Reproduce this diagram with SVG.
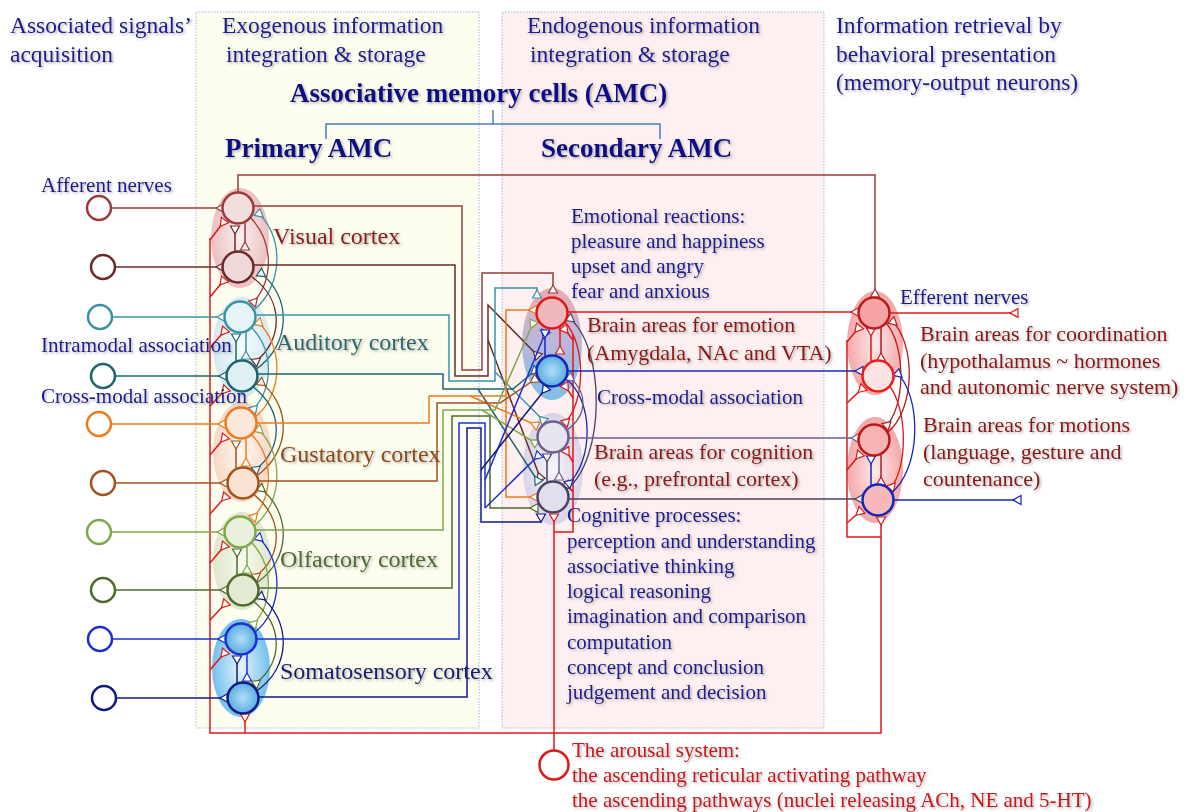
<svg xmlns="http://www.w3.org/2000/svg" width="1188" height="812" viewBox="0 0 1188 812">
<style>
.t{font-family:"Liberation Serif","Times New Roman",serif;filter:url(#sh)}
.nb{fill:#1a1a8e}
.dr{fill:#8a1515}
.rd{fill:#c8141a}
.h{font-size:23.5px}
.b{font-weight:bold;font-size:27px;fill:#0a0a86}
.s21{font-size:21px}
.s22{font-size:22px}
.s24{font-size:24px}
.w{fill:none;stroke-width:1.5}
.thin{fill:none;stroke-width:1.3}
</style>
<defs>
<filter id="sh" x="-5%" y="-20%" width="110%" height="150%"><feDropShadow dx="1.5" dy="1.5" stdDeviation="0.8" flood-color="#666" flood-opacity="0.5"/></filter>
<marker id="mV1" viewBox="0 -6 11 12" refX="9" refY="0" markerWidth="11" markerHeight="12" markerUnits="userSpaceOnUse" orient="auto"><path d="M1,0 L9,-4.5 L9,4.5 Z" fill="#fff" stroke="#9a3b3b" stroke-width="1.2"/></marker>
<marker id="mV2" viewBox="0 -6 11 12" refX="9" refY="0" markerWidth="11" markerHeight="12" markerUnits="userSpaceOnUse" orient="auto"><path d="M1,0 L9,-4.5 L9,4.5 Z" fill="#fff" stroke="#6b2a2a" stroke-width="1.2"/></marker>
<marker id="mA1" viewBox="0 -6 11 12" refX="9" refY="0" markerWidth="11" markerHeight="12" markerUnits="userSpaceOnUse" orient="auto"><path d="M1,0 L9,-4.5 L9,4.5 Z" fill="#fff" stroke="#3a93a5" stroke-width="1.2"/></marker>
<marker id="mA2" viewBox="0 -6 11 12" refX="9" refY="0" markerWidth="11" markerHeight="12" markerUnits="userSpaceOnUse" orient="auto"><path d="M1,0 L9,-4.5 L9,4.5 Z" fill="#fff" stroke="#1f6470" stroke-width="1.2"/></marker>
<marker id="mG1" viewBox="0 -6 11 12" refX="9" refY="0" markerWidth="11" markerHeight="12" markerUnits="userSpaceOnUse" orient="auto"><path d="M1,0 L9,-4.5 L9,4.5 Z" fill="#fff" stroke="#ee7a1c" stroke-width="1.2"/></marker>
<marker id="mG2" viewBox="0 -6 11 12" refX="9" refY="0" markerWidth="11" markerHeight="12" markerUnits="userSpaceOnUse" orient="auto"><path d="M1,0 L9,-4.5 L9,4.5 Z" fill="#fff" stroke="#a4521a" stroke-width="1.2"/></marker>
<marker id="mO1" viewBox="0 -6 11 12" refX="9" refY="0" markerWidth="11" markerHeight="12" markerUnits="userSpaceOnUse" orient="auto"><path d="M1,0 L9,-4.5 L9,4.5 Z" fill="#fff" stroke="#7ea84a" stroke-width="1.2"/></marker>
<marker id="mO2" viewBox="0 -6 11 12" refX="9" refY="0" markerWidth="11" markerHeight="12" markerUnits="userSpaceOnUse" orient="auto"><path d="M1,0 L9,-4.5 L9,4.5 Z" fill="#fff" stroke="#4f6b2c" stroke-width="1.2"/></marker>
<marker id="mS1" viewBox="0 -6 11 12" refX="9" refY="0" markerWidth="11" markerHeight="12" markerUnits="userSpaceOnUse" orient="auto"><path d="M1,0 L9,-4.5 L9,4.5 Z" fill="#fff" stroke="#1c30d0" stroke-width="1.2"/></marker>
<marker id="mS2" viewBox="0 -6 11 12" refX="9" refY="0" markerWidth="11" markerHeight="12" markerUnits="userSpaceOnUse" orient="auto"><path d="M1,0 L9,-4.5 L9,4.5 Z" fill="#fff" stroke="#111a80" stroke-width="1.2"/></marker>
<marker id="mR" viewBox="0 -6 11 12" refX="9" refY="0" markerWidth="11" markerHeight="12" markerUnits="userSpaceOnUse" orient="auto"><path d="M1,0 L9,-4.5 L9,4.5 Z" fill="#fff" stroke="#e01818" stroke-width="1.2"/></marker>
<marker id="mDR" viewBox="0 -6 11 12" refX="9" refY="0" markerWidth="11" markerHeight="12" markerUnits="userSpaceOnUse" orient="auto"><path d="M1,0 L9,-4.5 L9,4.5 Z" fill="#fff" stroke="#b41c1c" stroke-width="1.2"/></marker>
<marker id="mB" viewBox="0 -6 11 12" refX="9" refY="0" markerWidth="11" markerHeight="12" markerUnits="userSpaceOnUse" orient="auto"><path d="M1,0 L9,-4.5 L9,4.5 Z" fill="#fff" stroke="#1428b8" stroke-width="1.2"/></marker>
<marker id="mL" viewBox="0 -6 11 12" refX="9" refY="0" markerWidth="11" markerHeight="12" markerUnits="userSpaceOnUse" orient="auto"><path d="M1,0 L9,-4.5 L9,4.5 Z" fill="#fff" stroke="#6e5f8e" stroke-width="1.2"/></marker>
<marker id="mDL" viewBox="0 -6 11 12" refX="9" refY="0" markerWidth="11" markerHeight="12" markerUnits="userSpaceOnUse" orient="auto"><path d="M1,0 L9,-4.5 L9,4.5 Z" fill="#fff" stroke="#4a4262" stroke-width="1.2"/></marker>
<radialGradient id="gV"><stop offset="0" stop-color="#fbf0f0"/><stop offset="1" stop-color="#ebc0c0"/></radialGradient>
<radialGradient id="gA"><stop offset="0" stop-color="#f8fcfd"/><stop offset="1" stop-color="#d4e9f1"/></radialGradient>
<radialGradient id="gG"><stop offset="0" stop-color="#fff8f2"/><stop offset="1" stop-color="#f9d8c4"/></radialGradient>
<radialGradient id="gO"><stop offset="0" stop-color="#f8faf0"/><stop offset="1" stop-color="#dfe7cd"/></radialGradient>
<radialGradient id="gS"><stop offset="0" stop-color="#e8f4fc"/><stop offset="1" stop-color="#74c0ee"/></radialGradient>
<radialGradient id="gP"><stop offset="0" stop-color="#fdeaea"/><stop offset="1" stop-color="#f4a8a8"/></radialGradient>
<radialGradient id="gC"><stop offset="0" stop-color="#f6f4fa"/><stop offset="1" stop-color="#d8d4e8"/></radialGradient>
<linearGradient id="gE" x1="0" y1="0" x2="0" y2="1"><stop offset="0" stop-color="#eeaab0"/><stop offset="0.5" stop-color="#b8b8dc"/><stop offset="1" stop-color="#80bee6"/></linearGradient>
<radialGradient id="cB"><stop offset="0" stop-color="#b4def8"/><stop offset="1" stop-color="#58ace2"/></radialGradient>
</defs>

<g id="panels">
<rect x="196" y="12" width="283" height="716" fill="#fefef0" stroke="#9ab8dc" stroke-width="1" stroke-dasharray="1.5,1.5"/>
<rect x="502" y="12" width="322" height="716" fill="#fef0f0" stroke="#9ab8dc" stroke-width="1" stroke-dasharray="1.5,1.5"/>
</g>

<g id="headers">
<text class="t nb h" x="10" y="33">Associated signals’</text>
<text class="t nb h" x="10" y="62">acquisition</text>
<text class="t nb h" x="222" y="33">Exogenous information</text>
<text class="t nb h" x="226" y="62">integration &amp; storage</text>
<text class="t nb h" x="527" y="33">Endogenous information</text>
<text class="t nb h" x="530" y="62">integration &amp; storage</text>
<text class="t nb h" x="836" y="33">Information retrieval by</text>
<text class="t nb h" x="836" y="62">behavioral presentation</text>
<text class="t nb h" x="836" y="90">(memory-output neurons)</text>
<text class="t b" x="290" y="102">Associative memory cells (AMC)</text>
<text class="t b" x="225" y="157">Primary AMC</text>
<text class="t b" x="541" y="157">Secondary AMC</text>
<path d="M493,110 V124 M326,139 V124 H660 V139" fill="none" stroke="#4a80b8" stroke-width="1.5"/>
</g>

<g id="glows">
<ellipse cx="240" cy="238" rx="29" ry="50" fill="url(#gV)"/>
<ellipse cx="242" cy="347" rx="29" ry="50" fill="url(#gA)"/>
<ellipse cx="242" cy="452" rx="29" ry="50" fill="url(#gG)"/>
<ellipse cx="242" cy="561" rx="29" ry="49" fill="url(#gO)"/>
<ellipse cx="241" cy="668" rx="29" ry="49" fill="url(#gS)"/>
<ellipse cx="552" cy="344" rx="30" ry="56" fill="url(#gE)"/>
<ellipse cx="553" cy="469" rx="30" ry="56" fill="url(#gC)"/>
<ellipse cx="875" cy="343" rx="28" ry="52" fill="url(#gP)"/>
<ellipse cx="875" cy="470" rx="28" ry="53" fill="url(#gP)"/>
</g>

<g id="connectors">
<g stroke="#e01818" class="w">
<path d="M210,238 V733 H881 V517" marker-end="url(#mR)"/>
<path d="M210,240 L225,220" marker-end="url(#mR)"/>
<path d="M210,297 L225,279" marker-end="url(#mR)"/>
<path d="M210,348 L226,329" marker-end="url(#mR)"/>
<path d="M210,406 L227,388" marker-end="url(#mR)"/>
<path d="M210,455 L226,436" marker-end="url(#mR)"/>
<path d="M210,514 L227,495" marker-end="url(#mR)"/>
<path d="M210,563 L226,544" marker-end="url(#mR)"/>
<path d="M210,620 L227,602" marker-end="url(#mR)"/>
<path d="M210,670 L226,651" marker-end="url(#mR)"/>
<path d="M245,733 V714" marker-end="url(#mR)"/>
<path d="M554,750 V514" marker-end="url(#mR)"/>
<path d="M554,532 H573 V335"/>
<path d="M573,340 L563,327" marker-end="url(#mR)"/>
<path d="M573,398 L564,384" marker-end="url(#mR)"/>
<path d="M573,462 L565,449" marker-end="url(#mR)"/>
<path d="M573,492 L565,483" marker-end="url(#mR)"/>
<path d="M881,537 H847 V340"/>
<path d="M847,342 L860,326" marker-end="url(#mR)"/>
<path d="M847,403 L864,387" marker-end="url(#mR)"/>
<path d="M847,470 L861,453" marker-end="url(#mR)"/>
<path d="M847,523 L862,510" marker-end="url(#mR)"/>
</g>

<path class="w" stroke="#9a3b3b" d="M112,208 H224" marker-end="url(#mV1)"/>
<path class="w" stroke="#6b2a2a" d="M115,267 H224" marker-end="url(#mV2)"/>
<path class="w" stroke="#3a93a5" d="M112,317 H225" marker-end="url(#mA1)"/>
<path class="w" stroke="#1f6470" d="M115,376 H227" marker-end="url(#mA2)"/>
<path class="w" stroke="#ee7a1c" d="M111,424 H226" marker-end="url(#mG1)"/>
<path class="w" stroke="#a4521a" d="M115,483 H228" marker-end="url(#mG2)"/>
<path class="w" stroke="#7ea84a" d="M111,532 H225" marker-end="url(#mO1)"/>
<path class="w" stroke="#4f6b2c" d="M115,590 H228" marker-end="url(#mO2)"/>
<path class="w" stroke="#1c30d0" d="M112,639 H226" marker-end="url(#mS1)"/>
<path class="w" stroke="#111a80" d="M116,698 H228" marker-end="url(#mS2)"/>

<path class="w" stroke="#6b2a2a" d="M235,252 V226" marker-end="url(#mV2)"/>
<path class="w" stroke="#9a3b3b" d="M245,223 V250" marker-end="url(#mV1)"/>
<path class="w" stroke="#1f6470" d="M236,361 V334" marker-end="url(#mA2)"/>
<path class="w" stroke="#3a93a5" d="M246,332 V359" marker-end="url(#mA1)"/>
<path class="w" stroke="#a4521a" d="M236,468 V441" marker-end="url(#mG2)"/>
<path class="w" stroke="#ee7a1c" d="M246,439 V466" marker-end="url(#mG1)"/>
<path class="w" stroke="#4f6b2c" d="M237,575 V549" marker-end="url(#mO2)"/>
<path class="w" stroke="#7ea84a" d="M247,547 V573" marker-end="url(#mO1)"/>
<path class="w" stroke="#111a80" d="M237,683 V656" marker-end="url(#mS2)"/>
<path class="w" stroke="#1c30d0" d="M247,654 V681" marker-end="url(#mS1)"/>

<path class="thin" stroke="#9a3b3b" d="M251,218 C274,243 274,280 252,304" marker-end="url(#mV1)"/>
<path class="thin" stroke="#3a93a5" d="M254,310 C284,285 284,235 257,212" marker-end="url(#mA1)"/>
<path class="thin" stroke="#6b2a2a" d="M252,277 C284,300 284,340 254,363" marker-end="url(#mV2)"/>
<path class="thin" stroke="#1f6470" d="M255,370 C292,345 292,295 259,272" marker-end="url(#mA2)"/>
<path class="thin" stroke="#3a93a5" d="M251,327 C274,350 274,388 252,411" marker-end="url(#mA1)"/>
<path class="thin" stroke="#ee7a1c" d="M254,418 C284,395 284,345 257,321" marker-end="url(#mG1)"/>
<path class="thin" stroke="#1f6470" d="M252,386 C284,410 284,448 254,471" marker-end="url(#mA2)"/>
<path class="thin" stroke="#a4521a" d="M255,477 C292,452 292,405 259,381" marker-end="url(#mG2)"/>
<path class="thin" stroke="#ee7a1c" d="M251,434 C274,458 274,496 252,519" marker-end="url(#mG1)"/>
<path class="thin" stroke="#7ea84a" d="M254,526 C284,502 284,452 257,428" marker-end="url(#mO1)"/>
<path class="thin" stroke="#a4521a" d="M252,493 C284,518 284,555 254,578" marker-end="url(#mG2)"/>
<path class="thin" stroke="#4f6b2c" d="M255,584 C292,560 292,512 259,487" marker-end="url(#mO2)"/>
<path class="thin" stroke="#7ea84a" d="M251,542 C274,566 274,603 252,626" marker-end="url(#mO1)"/>
<path class="thin" stroke="#1c30d0" d="M254,633 C284,610 284,560 257,536" marker-end="url(#mS1)"/>
<path class="thin" stroke="#4f6b2c" d="M252,600 C284,625 284,662 254,685" marker-end="url(#mO2)"/>
<path class="thin" stroke="#111a80" d="M255,692 C292,668 292,620 259,595" marker-end="url(#mS2)"/>

<path class="w" stroke="#9a3b3b" d="M238,193 V175 H875 V297" marker-end="url(#mV1)"/>
<path class="w" stroke="#9a3b3b" d="M254,206 H462 V370 H482 V273 H553 V293" marker-end="url(#mV1)"/>
<path class="w" stroke="#6b2a2a" d="M254,265 H455 V376 H488 V305 L539,357" marker-end="url(#mV2)"/>
<path class="w" stroke="#6b2a2a" d="M488,340 L541,480" marker-end="url(#mV2)"/>
<path class="w" stroke="#3a93a5" d="M255,315 H449 V381 H495 V288 H537 V298" marker-end="url(#mA1)"/>
<path class="w" stroke="#3a93a5" d="M495,372 L545,422" marker-end="url(#mA1)"/>
<path class="w" stroke="#1f6470" d="M256,374 H443 V389 H513 L537,369" marker-end="url(#mA2)"/>
<path class="w" stroke="#1f6470" d="M478,389 L539,483" marker-end="url(#mA2)"/>
<path class="w" stroke="#ee7a1c" d="M255,423 H429 V396 H506 V310 H537" marker-end="url(#mG1)"/>
<path class="w" stroke="#ee7a1c" d="M506,396 V497 H538" marker-end="url(#mG1)"/>
<path class="w" stroke="#ee7a1c" d="M470,396 L538,426" marker-end="url(#mG1)"/>
<path class="w" stroke="#a4521a" d="M257,481 H437 V403 H500 L537,378" marker-end="url(#mG2)"/>
<path class="w" stroke="#7ea84a" d="M255,530 H443 V410 H495 L534,321" marker-end="url(#mO1)"/>
<path class="w" stroke="#7ea84a" d="M482,410 L537,444" marker-end="url(#mO1)"/>
<path class="w" stroke="#4f6b2c" d="M257,588 H452 V416 H490 V508 H538" marker-end="url(#mO2)"/>
<path class="w" stroke="#1c30d0" d="M255,639 H459 V423 H485 V508"/>
<path class="w" stroke="#1c30d0" d="M485,480 L546,331" marker-end="url(#mS1)"/>
<path class="w" stroke="#1c30d0" d="M485,508 L540,454" marker-end="url(#mS1)"/>
<path class="w" stroke="#111a80" d="M257,697 H467 V428 H481 V522 H541 V514" marker-end="url(#mS2)"/>
<path class="w" stroke="#111a80" d="M481,470 L547,387" marker-end="url(#mS2)"/>

<path class="w" stroke="#1428b8" d="M545,356 V330" marker-end="url(#mB)"/>
<path class="w" stroke="#e01818" d="M560,327 V354" marker-end="url(#mR)"/>
<path class="w" stroke="#4a4262" d="M547,482 V454" marker-end="url(#mDL)"/>
<path class="w" stroke="#6e5f8e" d="M559,452 V480" marker-end="url(#mL)"/>
<path class="thin" stroke="#e01818" d="M565,322 C586,345 586,402 564,424" marker-end="url(#mR)"/>
<path class="thin" stroke="#4a4262" d="M566,490 C606,460 606,345 568,317" marker-end="url(#mDL)"/>
<path class="thin" stroke="#1428b8" d="M566,379 C594,400 594,462 567,485" marker-end="url(#mB)"/>
<path class="thin" stroke="#6e5f8e" d="M567,430 C588,415 588,392 568,376" marker-end="url(#mL)"/>

<path class="w" stroke="#e01818" d="M567,312 H859" marker-end="url(#mR)"/>
<path class="w" stroke="#1428b8" d="M567,371 H863" marker-end="url(#mB)"/>
<path class="w" stroke="#6e5f8e" d="M568,438 H859" marker-end="url(#mL)"/>
<path class="w" stroke="#4a4262" d="M568,499 H863" marker-end="url(#mDL)"/>

<path class="w" stroke="#e01818" d="M871,362 V328" marker-end="url(#mR)"/>
<path class="w" stroke="#b41c1c" d="M881,328 V361" marker-end="url(#mDR)"/>
<path class="w" stroke="#1428b8" d="M871,486 V456" marker-end="url(#mB)"/>
<path class="w" stroke="#b41c1c" d="M881,455 V485" marker-end="url(#mDR)"/>
<path class="thin" stroke="#b41c1c" d="M886,323 C906,345 906,408 885,427" marker-end="url(#mDR)"/>
<path class="thin" stroke="#b41c1c" d="M887,433 C916,410 916,342 891,320" marker-end="url(#mDR)"/>
<path class="thin" stroke="#e01818" d="M889,385 C908,410 908,468 890,489" marker-end="url(#mR)"/>
<path class="thin" stroke="#1428b8" d="M890,494 C922,470 922,395 896,372" marker-end="url(#mB)"/>

<path class="w" stroke="#e01818" d="M889,313 H1018" marker-end="url(#mR)"/>
<path class="w" stroke="#1428b8" d="M893,500 H1021" marker-end="url(#mB)"/>
</g>

<g id="afferent-cells" fill="#fff" stroke-width="2.5">
<circle cx="99" cy="208" r="12" stroke="#9a3b3b"/>
<circle cx="103" cy="267" r="12" stroke="#6b2a2a"/>
<circle cx="100" cy="317" r="12" stroke="#3a93a5"/>
<circle cx="103" cy="376" r="12" stroke="#1f6470"/>
<circle cx="99" cy="424" r="12" stroke="#ee7a1c"/>
<circle cx="103" cy="483" r="12" stroke="#a4521a"/>
<circle cx="99" cy="532" r="12" stroke="#7ea84a"/>
<circle cx="103" cy="590" r="12" stroke="#4f6b2c"/>
<circle cx="100" cy="639" r="12" stroke="#1c30d0"/>
<circle cx="104" cy="698" r="12" stroke="#111a80"/>
</g>

<g id="primary-amc" stroke-width="2.5">
<circle cx="238" cy="208" r="15.5" fill="#f3dede" stroke="#9a3b3b"/>
<circle cx="238" cy="267" r="15.5" fill="#f0d8d8" stroke="#6b2a2a"/>
<circle cx="240" cy="317" r="15.5" fill="#e6f4f8" stroke="#3a93a5"/>
<circle cx="242" cy="376" r="15.5" fill="#e0f0f5" stroke="#1f6470"/>
<circle cx="241" cy="423" r="15.5" fill="#fde9dc" stroke="#ee7a1c"/>
<circle cx="243" cy="483" r="15.5" fill="#fbe3d4" stroke="#a4521a"/>
<circle cx="240" cy="532" r="15.5" fill="#eaf0de" stroke="#7ea84a"/>
<circle cx="243" cy="590" r="15.5" fill="#e2ead4" stroke="#4f6b2c"/>
<circle cx="241" cy="639" r="15.5" fill="url(#cB)" stroke="#1c30d0"/>
<circle cx="243" cy="698" r="15.5" fill="url(#cB)" stroke="#111a80"/>
</g>

<g id="secondary-amc" stroke-width="2.5">
<circle cx="552" cy="313" r="15.5" fill="#f0b8bc" stroke="#e01818"/>
<circle cx="552" cy="371" r="15.5" fill="url(#cB)" stroke="#1428b8"/>
<circle cx="553" cy="437" r="15.5" fill="#e8e4f0" stroke="#6e5f8e"/>
<circle cx="553" cy="497" r="15.5" fill="#e2deec" stroke="#4a4262"/>
</g>

<g id="output-neurons" stroke-width="2.5">
<circle cx="874" cy="313" r="15.5" fill="#f4a4a4" stroke="#c01818"/>
<circle cx="878" cy="376" r="15.5" fill="#fde4e4" stroke="#f01c1c"/>
<circle cx="874" cy="440" r="15.5" fill="#f6b4b4" stroke="#c01818"/>
<circle cx="878" cy="500" r="15.5" fill="#f6b8b8" stroke="#1428b8"/>
</g>

<g id="arousal">
<circle cx="554" cy="765" r="14.5" fill="#fff" stroke="#e01818" stroke-width="2.5"/>
<text class="t rd s21" x="572" y="757">The arousal system:</text>
<text class="t rd s21" x="572" y="782">the ascending reticular activating pathway</text>
<text class="t rd s21" x="572" y="807">the ascending pathways (nuclei releasing ACh, NE and 5-HT)</text>
</g>

<g id="labels">
<text class="t nb s21" x="41" y="192">Afferent nerves</text>
<text class="t nb s21" x="41" y="352">Intramodal association</text>
<text class="t nb s21" x="41" y="403">Cross-modal association</text>
<text class="t s24" x="273" y="244" fill="#8a1a1a">Visual cortex</text>
<text class="t s24" x="276" y="350" fill="#2c6870">Auditory cortex</text>
<text class="t s24" x="280" y="462" fill="#8e4a14">Gustatory cortex</text>
<text class="t s24" x="280" y="567" fill="#4f6a30">Olfactory cortex</text>
<text class="t s24" x="280" y="679" fill="#141a6e">Somatosensory cortex</text>
<text class="t nb s21" x="571" y="223">Emotional reactions:</text>
<text class="t nb s21" x="571" y="248">pleasure and happiness</text>
<text class="t nb s21" x="571" y="273">upset and angry</text>
<text class="t nb s21" x="571" y="298">fear and anxious</text>
<text class="t dr s22" x="587" y="332">Brain areas for emotion</text>
<text class="t dr s22" x="587" y="360">(Amygdala, NAc and VTA)</text>
<text class="t nb s21" x="597" y="404">Cross-modal association</text>
<text class="t dr s22" x="594" y="459">Brain areas for cognition</text>
<text class="t dr s22" x="594" y="486">(e.g., prefrontal cortex)</text>
<text class="t nb s21" x="567" y="522">Cognitive processes:</text>
<text class="t nb s21" x="567" y="548">perception and understanding</text>
<text class="t nb s21" x="567" y="573">associative thinking</text>
<text class="t nb s21" x="567" y="598">logical reasoning</text>
<text class="t nb s21" x="567" y="623">imagination and comparison</text>
<text class="t nb s21" x="567" y="649">computation</text>
<text class="t nb s21" x="567" y="674">concept and conclusion</text>
<text class="t nb s21" x="567" y="699">judgement and decision</text>
<text class="t nb s21" x="900" y="304">Efferent nerves</text>
<text class="t dr s22" x="920" y="341">Brain areas for coordination</text>
<text class="t dr s22" x="920" y="368">(hypothalamus ~ hormones</text>
<text class="t dr s22" x="920" y="394">and autonomic nerve system)</text>
<text class="t dr s22" x="923" y="432">Brain areas for motions</text>
<text class="t dr s22" x="923" y="459">(language, gesture and</text>
<text class="t dr s22" x="923" y="486">countenance)</text>
</g>
</svg>
